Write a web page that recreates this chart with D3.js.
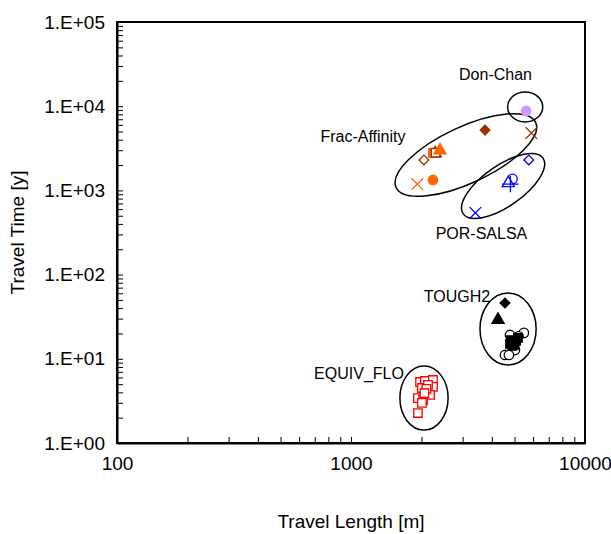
<!DOCTYPE html>
<html>
<head>
<meta charset="utf-8">
<script src="https://cdn.jsdelivr.net/npm/d3@7"></script>
<style>
  body { margin: 0; background: #fff; }
  text { font-family: "Liberation Sans", Arial, sans-serif; fill: #000; }
</style>
</head>
<body>
<svg id="chart"></svg>
<script>
// data: [travel length m, travel time y]
var fracOpenDiamond = [[2050, 2300]];
var fracSquare = [[2240, 2780]];
var fracOpenSquare = [[2300, 2800]];
var fracOpenTriangle = [[2290, 2760]];
var fracTriangle = [[2400, 3000]];
var fracCross = [[1920, 1190]];
var fracCircle = [[2240, 1330]];
var fracDiamond = [[3740, 5200]];
var fracCrossDark = [[5900, 4800]];
var donChan = [[5600, 8800]];
var porDiamond = [[5750, 2300]];
var porCircle = [[4900, 1370]];
var porTriangle = [[4700, 1220]];
var porPlus = [[4800, 1190]];
var porCross = [[3400, 540]];
var toughDiamond = [[4550, 46]];
var toughTriangle = [[4250, 29]];
var toughSquares = [[4830, 16.7], [4975, 15.4], [5075, 16.3], [5170, 17.7], [4780, 15.0], [4900, 14.2], [5000, 14.6]];
var toughCircles = [[4780, 19.2], [5480, 20.3], [5020, 12.7], [4550, 11.1], [4730, 11.1], [5200, 18.5]];
var equivSquares = [[1973, 5.3], [2070, 5.45], [2240, 5.6], [2240, 4.63], [2010, 4.5], [2133, 4.89],
                    [2093, 4.03], [2177, 3.72], [1932, 3.42], [2032, 3.24], [2010, 2.99], [1932, 2.27],
                    [2100, 4.4], [2060, 3.9]];

var xTicks = [100, 1000, 10000];
var yTicks = [1, 10, 100, 1000, 10000, 100000];

// cluster outlines: centre in data units, half axes in decades of x, angle in degrees
var groups = [
  { name: "Don-Chan", cx: 5550, cy: 9800, a: 0.075, b: 0.064, angle: 0, lx: 4145, ly: 20470 },
  { name: "Frac-Affinity", cx: 3097, cy: 2632, a: 0.329, b: 0.120, angle: -25, lx: 1125, ly: 3757 },
  { name: "POR-SALSA", cx: 4467, cy: 1128, a: 0.208, b: 0.087, angle: -35, lx: 3610, ly: 265 },
  { name: "TOUGH2", cx: 4690, cy: 22.6, a: 0.120, b: 0.154, angle: 0, lx: 2838, ly: 47.3 },
  { name: "EQUIV_FLO", cx: 2051, cy: 3.42, a: 0.103, b: 0.137, angle: 0, lx: 1082, ly: 5.75 }
];

var orange = "#ff6600", brown = "#993300", blue = "#0000ff", red = "#ff0000";
var series = [
  { data: fracOpenDiamond, sym: "diamond", color: brown, fill: false },
  { data: fracOpenTriangle, sym: "triangle", color: brown, fill: false },
  { data: fracSquare, sym: "square", color: orange, fill: true },
  { data: fracOpenSquare, sym: "square", color: brown, fill: false },
  { data: fracTriangle, sym: "triangle", color: orange, fill: true },
  { data: fracCross, sym: "times", color: orange, fill: false },
  { data: fracCircle, sym: "circle", color: orange, fill: true },
  { data: fracDiamond, sym: "diamond", color: brown, fill: true },
  { data: fracCrossDark, sym: "times", color: brown, fill: false },
  { data: donChan, sym: "circle", color: "#cc99ff", fill: true },
  { data: porDiamond, sym: "diamond", color: blue, fill: false },
  { data: porCircle, sym: "circle", color: blue, fill: false },
  { data: porTriangle, sym: "triangle", color: blue, fill: false },
  { data: porPlus, sym: "plus", color: blue, fill: false },
  { data: porCross, sym: "times", color: blue, fill: false },
  { data: toughDiamond, sym: "diamond", color: "#000", fill: true },
  { data: toughTriangle, sym: "triangle", color: "#000", fill: true },
  { data: toughCircles, sym: "circle", color: "#000", fill: false },
  { data: toughSquares, sym: "square", color: "#000", fill: true },
  { data: equivSquares, sym: "square", color: red, fill: false }
];

var W = 611, H = 534;
var margin = {top: 22, right: 26, bottom: 91, left: 117};
var width = W - margin.left - margin.right,
    height = H - margin.top - margin.bottom;

var svg = d3.select("#chart").attr("width", W).attr("height", H);
var g = svg.append("g").attr("transform", "translate(" + margin.left + "," + margin.top + ")");

var x = d3.scaleLog().domain([100, 10000]).range([0, width]);
var y = d3.scaleLog().domain([1, 100000]).range([height, 0]);
var decade = x(1000) - x(100);

function minorTicks(lo, hi) {
  var t = [];
  for (var e = lo; e < hi; e++) {
    for (var m = 1; m < 10; m++) t.push(m * Math.pow(10, e));
  }
  t.push(Math.pow(10, hi));
  return t;
}

var xAxis = d3.axisBottom(x)
  .tickValues(minorTicks(2, 4))
  .tickSizeInner(-6).tickSizeOuter(0).tickPadding(14)
  .tickFormat(function(d) { return xTicks.indexOf(d) >= 0 ? String(d) : ""; });

var yAxis = d3.axisLeft(y)
  .tickValues(minorTicks(0, 5))
  .tickSizeInner(-6).tickSizeOuter(0).tickPadding(12)
  .tickFormat(function(d) {
    if (yTicks.indexOf(d) < 0) return "";
    var e = Math.round(Math.log10(d));
    return "1.E+" + (e < 10 ? "0" : "") + e;
  });

g.append("g").attr("transform", "translate(0," + height + ")").call(xAxis)
  .call(function(a) {
    a.selectAll("text").style("font-size", "19px").attr("font-family", null);
    a.select(".domain").attr("stroke-width", 2);
  });

g.append("g").call(yAxis)
  .call(function(a) {
    a.selectAll("text").style("font-size", "19px").attr("font-family", null);
    a.select(".domain").attr("stroke-width", 2);
  });

// plot area frame
g.append("rect")
  .attr("width", width).attr("height", height)
  .attr("fill", "none").attr("stroke", "#000").attr("stroke-width", 2);

// cluster ellipses
g.selectAll(".grp").data(groups).enter().append("ellipse")
  .attr("class", "grp")
  .attr("transform", function(d) {
    return "translate(" + x(d.cx) + "," + y(d.cy) + ") rotate(" + d.angle + ")";
  })
  .attr("rx", function(d) { return d.a * decade; })
  .attr("ry", function(d) { return d.b * decade; })
  .attr("fill", "none").attr("stroke", "#000").attr("stroke-width", 1.5);

var symbols = {
  diamond: { type: d3.symbolDiamond2 || d3.symbolDiamond, size: 60 },
  square: { type: d3.symbolSquare, size: 72 },
  triangle: { type: d3.symbolTriangle, size: 64 },
  circle: { type: d3.symbolCircle, size: 70 },
  times: { type: d3.symbolTimes || d3.symbolCross, size: 90 },
  plus: { type: d3.symbolPlus || d3.symbolCross, size: 90 }
};

series.forEach(function(s) {
  var sym = symbols[s.sym];
  g.append("g").selectAll("path").data(s.data).enter().append("path")
    .attr("transform", function(d) { return "translate(" + x(d[0]) + "," + y(d[1]) + ")"; })
    .attr("d", d3.symbol().type(sym.type).size(sym.size))
    .attr("fill", s.fill ? s.color : (s.sym === "times" || s.sym === "plus" ? "none" : "#fff"))
    .attr("stroke", s.color)
    .attr("stroke-width", 1.3);
});

// cluster labels
g.selectAll(".lbl").data(groups).enter().append("text")
  .attr("class", "lbl")
  .attr("x", function(d) { return x(d.lx); })
  .attr("y", function(d) { return y(d.ly); })
  .attr("text-anchor", "middle")
  .style("font-size", "16px")
  .text(function(d) { return d.name; });

// axis titles
svg.append("text")
  .attr("x", margin.left + width / 2).attr("y", 528)
  .attr("text-anchor", "middle").style("font-size", "19px")
  .text("Travel Length [m]");

svg.append("text")
  .attr("transform", "translate(24," + (margin.top + height / 2) + ") rotate(-90)")
  .attr("text-anchor", "middle").style("font-size", "19px")
  .text("Travel Time [y]");
</script>
</body>
</html>
